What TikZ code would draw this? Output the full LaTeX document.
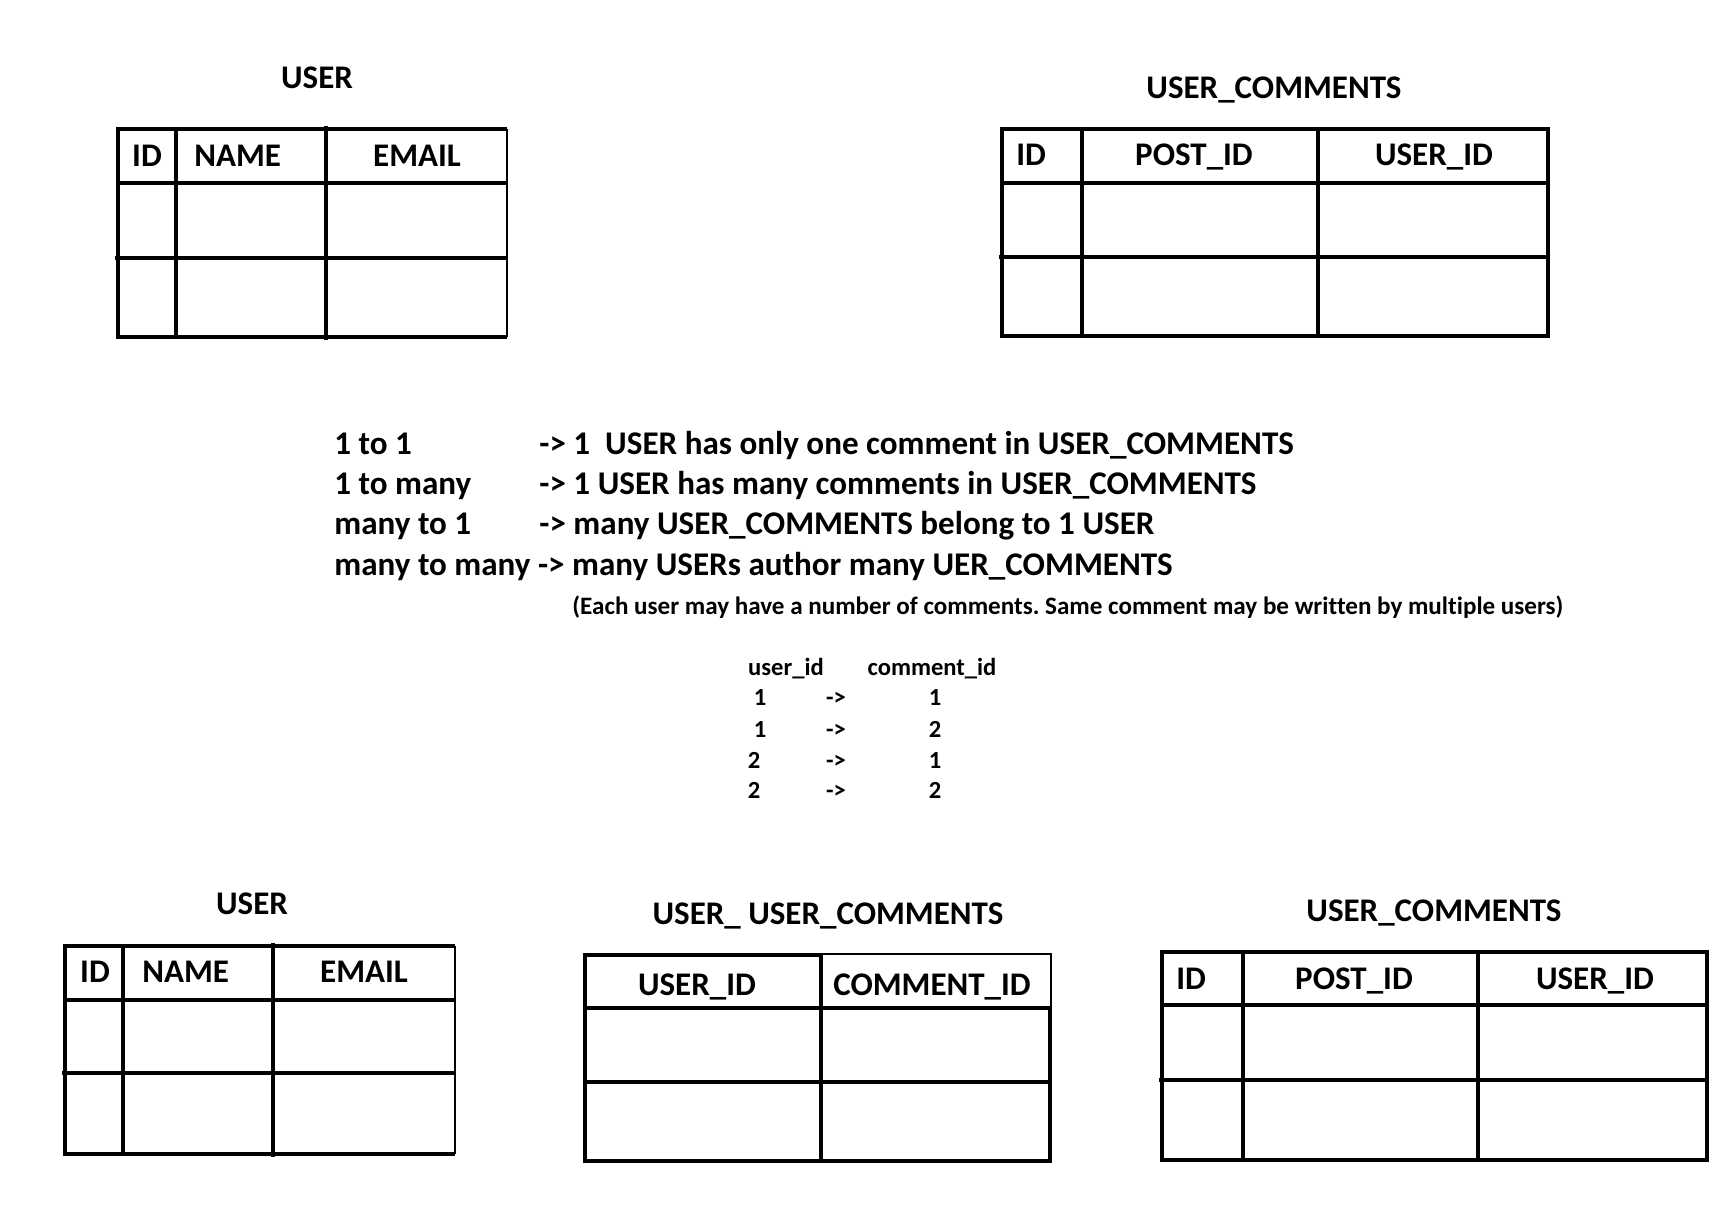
\documentclass[tikz,border=0pt]{standalone}
\usepackage{fontspec}
\setmainfont{Carlito}[Ligatures=NoCommon]
\usepackage{tikz}
\frenchspacing
\tikzset{
  rule/.style={line width=2.4pt, line join=miter},
  thinrule/.style={line width=1.3pt},
  title/.style={font=\bfseries\fontsize{16.5}{19}\selectfont, inner sep=0pt, anchor=base},
  colhead/.style={font=\bfseries\fontsize{16.5}{19}\selectfont, inner sep=0pt, anchor=base},
  rel/.style={font=\bfseries\fontsize{16.55}{19}\selectfont, inner sep=0pt, anchor=base west},
  note/.style={font=\bfseries\fontsize{12.55}{14}\selectfont, inner sep=0pt, anchor=base west},
  cell/.style={font=\bfseries\fontsize{12.3}{14}\selectfont, inner sep=0pt, anchor=base},
}

\begin{document}
\begin{tikzpicture}[x=0.5pt, y=-0.5pt]
  \useasboundingbox (0,0) rectangle (1726,1211);
  \fill[white] (0,0) rectangle (1726,1211);

  % USER, top
  \node[title] (userA) at (317,88) {USER};
  \draw[rule] (507,129) -- (118,129) -- (118,337) -- (507,337);
  \draw[thinrule] (507,129) -- (507,337);
  \draw[rule] (118,183) -- (507,183) (115,258) -- (507,258) (176,129) -- (176,337) (326,126) -- (326,340);
  \node[colhead] (userAid) at (147,166) {ID};
  \node[colhead, anchor=base west] (userAname) at (194,166) {NAME};
  \node[colhead] (userAemail) at (417,166) {EMAIL};

  % USER_COMMENTS, top
  \node[title] (commA) at (1274,98) {USER\_COMMENTS};
  \draw[rule] (1002,129) rectangle (1548,336);
  \draw[rule] (1002,183) -- (1548,183) (999,257) -- (1548,257) (1082,129) -- (1082,336) (1318,129) -- (1318,336);
  \node[colhead, anchor=base west] (commAid) at (1016,165) {ID};
  \node[colhead] (commApost) at (1194,165) {POST\_ID};
  \node[colhead] (commAuser) at (1434,165) {USER\_ID};

  % relations
  \node[rel] (oneone) at (334,454) {1 to 1};
  \node[rel] (oneoneT) at (539,454) {-> 1~ USER has only one comment in USER\_COMMENTS};
  \node[rel] (onemany) at (334,494) {1 to many};
  \node[rel] (onemanyT) at (539,494) {-> 1 USER has many comments in USER\_COMMENTS};
  \node[rel] (manyone) at (334,534) {many to 1};
  \node[rel] (manyoneT) at (539,534) {-> many USER\_COMMENTS belong to 1 USER};
  \node[rel] (manymany) at (334,575) {many to many -> many USERs author many UER\_COMMENTS};
  \node[note] (eachuser) at (572,614) {(Each user may have a number of comments. Same comment may be written by multiple users)};

  \node[cell] (uidHead) at (786,675) {user\_id};
  \node[cell] (cidHead) at (932,675) {comment\_id};
  \foreach \u/\c/\y/\ux [count=\i] in {1/1/705/760, 1/2/737/760, 2/1/768/754, 2/2/798/754} {
    \node[cell] (u\i) at (\ux,\y) {\u};
    \node[cell] (arr\i) at (836,\y) {->};
    \node[cell] (c\i) at (935,\y) {\c};
  }

  % USER, bottom
  \node[title] (userB) at (252,914) {USER};
  \draw[rule] (455,946) -- (65,946) -- (65,1154) -- (455,1154);
  \draw[thinrule] (455,946) -- (455,1154);
  \draw[rule] (65,1000) -- (455,1000) (62,1073) -- (455,1073) (123,946) -- (123,1154) (273,943) -- (273,1157);
  \node[colhead] (userBid) at (95,982) {ID};
  \node[colhead, anchor=base west] (userBname) at (142,982) {NAME};
  \node[colhead] (userBemail) at (364,982) {EMAIL};

  % USER_USER_COMMENTS
  \node[title] (joinT) at (828,924) {USER\_ USER\_COMMENTS};
  \draw[rule] (821,955) -- (585,955) -- (585,1161) -- (1050,1161) -- (1050,1008);
  \draw[thinrule] (821,954) -- (1051,954) -- (1051,1008);
  \draw[rule] (585,1008) -- (1051,1008) (585,1082) -- (1050,1082) (821,955) -- (821,1161);
  \node[colhead] (joinUser) at (697,995) {USER\_ID};
  \node[colhead] (joinComm) at (932,995) {COMMENT\_ID};

  % USER_COMMENTS, bottom
  \node[title] (commB) at (1434,921) {USER\_COMMENTS};
  \draw[rule] (1162,952) rectangle (1707,1160);
  \draw[rule] (1162,1005) -- (1707,1005) (1159,1080) -- (1707,1080) (1243,952) -- (1243,1160) (1478,952) -- (1478,1160);
  \node[colhead, anchor=base west] (commBid) at (1176,989) {ID};
  \node[colhead] (commBpost) at (1354,989) {POST\_ID};
  \node[colhead] (commBuser) at (1595,989) {USER\_ID};
\end{tikzpicture}
\end{document}
